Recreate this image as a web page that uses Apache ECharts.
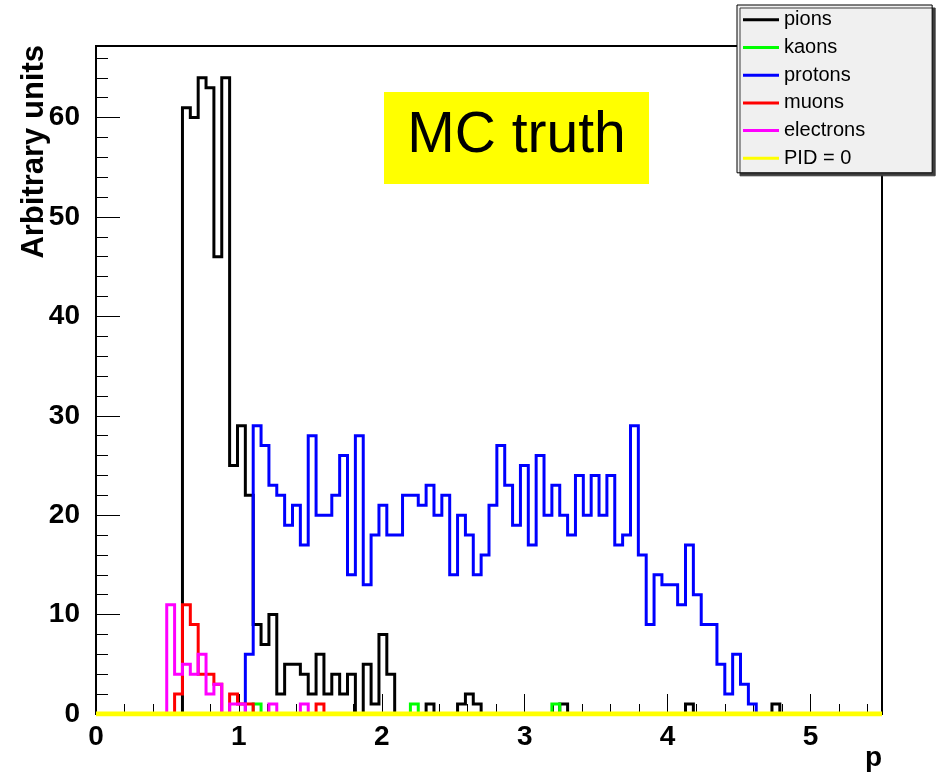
<!DOCTYPE html>
<html>
<head>
<meta charset="utf-8">
<script src="https://cdn.jsdelivr.net/npm/echarts@6/dist/echarts.min.js"></script>
<style>
  html, body { margin: 0; padding: 0; background: #ffffff; }
  #chart { width: 942px; height: 781px; }
</style>
</head>
<body>
<div id="chart"></div>
<script>
// Momentum histograms: 100 equal bins over 0 < p < 5.5
const binCount = 100;
const pMin = 0;
const pMax = 5.5;
const yMax = 67.2;

const speciesNames = ['pions', 'kaons', 'protons', 'muons', 'electrons', 'PID = 0'];
const speciesColors = ['#000000', '#00ff00', '#0000ff', '#ff0000', '#ff00ff', '#ffff00'];

// Bin contents, ten bins per row
const pions = [
  0, 0, 0, 0, 0, 0, 0, 0, 0, 0,
  0, 61, 60, 64, 63, 46, 64, 25, 29, 22,
  9, 7, 10, 2, 5, 5, 4, 2, 6, 2,
  4, 2, 4, 0, 5, 1, 8, 4, 0, 0,
  0, 0, 1, 0, 0, 0, 1, 2, 1, 0,
  0, 0, 0, 0, 0, 0, 0, 0, 0, 1,
  0, 0, 0, 0, 0, 0, 0, 0, 0, 0,
  0, 0, 0, 0, 0, 1, 0, 0, 0, 0,
  0, 0, 0, 0, 0, 0, 1, 0, 0, 0,
  0, 0, 0, 0, 0, 0, 0, 0, 0, 0
];
const kaons = [
  0, 0, 0, 0, 0, 0, 0, 0, 0, 0,
  0, 0, 0, 0, 0, 0, 0, 0, 0, 0,
  1, 0, 0, 0, 0, 0, 0, 0, 0, 0,
  0, 0, 0, 0, 0, 0, 0, 0, 0, 0,
  1, 0, 0, 0, 0, 0, 0, 0, 0, 0,
  0, 0, 0, 0, 0, 0, 0, 0, 1, 0,
  0, 0, 0, 0, 0, 0, 0, 0, 0, 0,
  0, 0, 0, 0, 0, 0, 0, 0, 0, 0,
  0, 0, 0, 0, 0, 0, 0, 0, 0, 0,
  0, 0, 0, 0, 0, 0, 0, 0, 0, 0
];
const protons = [
  0, 0, 0, 0, 0, 0, 0, 0, 0, 0,
  0, 0, 0, 0, 0, 0, 0, 0, 0, 6,
  29, 27, 23, 22, 19, 21, 17, 28, 20, 20,
  22, 26, 14, 28, 13, 18, 21, 18, 18, 22,
  22, 21, 23, 20, 22, 14, 20, 18, 14, 16,
  21, 27, 23, 19, 25, 17, 26, 20, 23, 20,
  18, 24, 20, 24, 20, 24, 17, 18, 29, 16,
  9, 14, 13, 13, 11, 17, 12, 9, 9, 5,
  2, 6, 3, 1, 0, 0, 0, 0, 0, 0,
  0, 0, 0, 0, 0, 0, 0, 0, 0, 0
];
const muons = [
  0, 0, 0, 0, 0, 0, 0, 0, 0, 0,
  2, 11, 9, 4, 4, 3, 0, 2, 1, 1,
  0, 0, 0, 0, 0, 0, 0, 0, 1, 0,
  0, 0, 0, 0, 0, 0, 0, 0, 0, 0,
  0, 0, 0, 0, 0, 0, 0, 0, 0, 0,
  0, 0, 0, 0, 0, 0, 0, 0, 0, 0,
  0, 0, 0, 0, 0, 0, 0, 0, 0, 0,
  0, 0, 0, 0, 0, 0, 0, 0, 0, 0,
  0, 0, 0, 0, 0, 0, 0, 0, 0, 0,
  0, 0, 0, 0, 0, 0, 0, 0, 0, 0
];
const electrons = [
  0, 0, 0, 0, 0, 0, 0, 0, 0, 11,
  4, 5, 4, 6, 2, 3, 0, 1, 1, 0,
  0, 0, 1, 0, 0, 0, 1, 0, 0, 0,
  0, 0, 0, 0, 0, 0, 0, 0, 0, 0,
  0, 0, 0, 0, 0, 0, 0, 0, 0, 0,
  0, 0, 0, 0, 0, 0, 0, 0, 0, 0,
  0, 0, 0, 0, 0, 0, 0, 0, 0, 0,
  0, 0, 0, 0, 0, 0, 0, 0, 0, 0,
  0, 0, 0, 0, 0, 0, 0, 0, 0, 0,
  0, 0, 0, 0, 0, 0, 0, 0, 0, 0
];
const pidZero = new Array(binCount).fill(0);

const speciesCounts = [pions, kaons, protons, muons, electrons, pidZero];

// Axis ticks: major every 1 (x) / 10 (y), minor every 0.2 (x) / 2 (y)
const xMajorStep = 1;
const xMinorStep = 0.2;
const yMajorStep = 10;
const yMinorStep = 2;

const binWidth = (pMax - pMin) / binCount;

// Each bin becomes a point at its lower edge; the step line holds the value
// until the next edge, closing at the upper end of the range.
function histogramOutline(counts) {
  const pts = counts.map((c, i) => [+(pMin + i * binWidth).toFixed(5), c]);
  pts.push([pMax, 0]);
  return pts;
}

const FONT = '"Liberation Sans", Arial, Helvetica, sans-serif';

const chart = echarts.init(document.getElementById('chart'), null, { renderer: 'canvas' });

const series = speciesNames.map((name, k) => ({
  name: name,
  type: 'line',
  step: 'end',
  data: histogramOutline(speciesCounts[k]),
  color: speciesColors[k],
  symbol: 'none',
  showSymbol: false,
  lineStyle: { color: speciesColors[k], width: k === 5 ? 5 : 3, join: 'miter' },
  emphasis: { disabled: true },
  silent: true,
  clip: true,
  z: 2 + k * 0.01
}));

const option = {
  backgroundColor: '#ffffff',
  animation: false,
  grid: {
    left: 96, top: 46, width: 786, height: 668,
    show: true, borderColor: '#000000', borderWidth: 2,
    backgroundColor: 'transparent', containLabel: false,
    outerBoundsMode: 'none'
  },
  xAxis: [
    {
      type: 'value', position: 'bottom', min: pMin, max: pMax, interval: xMajorStep,
      axisLine: { show: true, onZero: false, lineStyle: { color: '#000', width: 2 } },
      axisTick: { show: true, inside: true, length: 20, lineStyle: { color: '#000', width: 1 } },
      axisLabel: {
        show: true, margin: 9, color: '#000', fontFamily: FONT, fontSize: 28, fontWeight: 'bold',
        formatter: v => (Math.abs(v - Math.round(v)) < 1e-9 ? String(Math.round(v)) : '')
      },
      splitLine: { show: false },
      name: 'p', nameLocation: 'end', nameGap: 0, nameMoveOverlap: false,
      nameTextStyle: { color: '#000', fontFamily: FONT, fontSize: 28, fontWeight: 'bold',
                       align: 'right', verticalAlign: 'top', padding: [30, 0, 0, 0] }
    },
    {
      type: 'value', position: 'bottom', min: pMin, max: pMax, interval: xMinorStep,
      axisLine: { show: false, onZero: false },
      axisTick: { show: true, inside: true, length: 10, lineStyle: { color: '#000', width: 1 } },
      axisLabel: { show: false },
      splitLine: { show: false }
    }
  ],
  yAxis: [
    {
      type: 'value', position: 'left', min: 0, max: yMax, interval: yMajorStep,
      axisLine: { show: true, onZero: false, lineStyle: { color: '#000', width: 2 } },
      axisTick: { show: true, inside: true, length: 24, lineStyle: { color: '#000', width: 1 } },
      axisLabel: {
        show: true, margin: 16, color: '#000', fontFamily: FONT, fontSize: 28, fontWeight: 'bold',
        formatter: v => (Math.abs(v % yMajorStep) < 1e-9 ? String(v) : '')
      },
      splitLine: { show: false },
      name: 'Arbitrary units', nameLocation: 'end', nameGap: 1, nameRotate: 90, nameMoveOverlap: false,
      nameTextStyle: { color: '#000', fontFamily: FONT, fontSize: 31, fontWeight: 'bold',
                       align: 'right', verticalAlign: 'bottom', padding: [0, 0, 46, 0] }
    },
    {
      type: 'value', position: 'left', min: 0, max: yMax, interval: yMinorStep,
      axisLine: { show: false, onZero: false },
      axisTick: { show: true, inside: true, length: 12, lineStyle: { color: '#000', width: 1 } },
      axisLabel: { show: false },
      splitLine: { show: false }
    }
  ],
  legend: {
    data: speciesNames,
    orient: 'vertical',
    left: 737, top: 5,
    icon: 'rect',
    itemWidth: 36, itemHeight: 3, itemGap: 7.7,
    padding: [4.8, 67, 4.5, 6],
    backgroundColor: '#f0f0f0',
    borderColor: '#000', borderWidth: 1,
    shadowColor: '#3c3c3c', shadowBlur: 0, shadowOffsetX: 3, shadowOffsetY: 3,
    selectedMode: false,
    textStyle: { color: '#000', fontFamily: FONT, fontSize: 20, lineHeight: 20 }
  },
  graphic: [
    {
      type: 'group', left: 384, top: 92,
      children: [
        { type: 'rect', shape: { x: 0, y: 0, width: 265, height: 92 }, style: { fill: '#ffff00' } },
        { type: 'text', x: 132.5, y: 44,
          style: { text: 'MC truth', fill: '#000', font: '57px ' + FONT, textAlign: 'center', textVerticalAlign: 'middle' } }
      ]
    }
  ],
  series: series
};

chart.setOption(option);
</script>
</body>
</html>
